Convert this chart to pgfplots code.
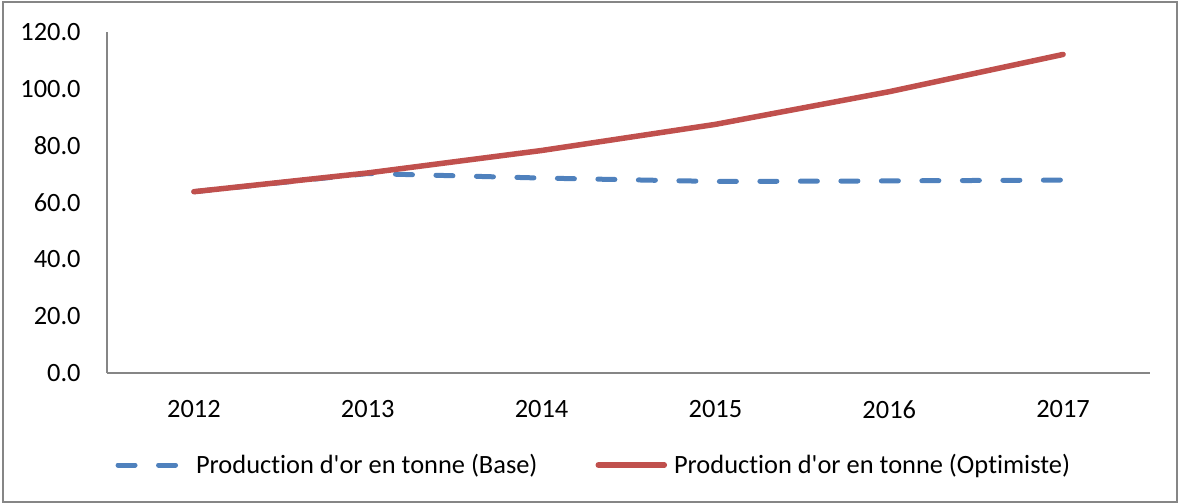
\documentclass[border=0pt]{standalone}
\usepackage{pgfplots}
\pgfplotsset{compat=1.18}
\usepackage{fontspec}
\setmainfont{Carlito}[Ligatures={NoCommon}]
\definecolor{xlblue}{RGB}{79,129,189}
\definecolor{xlred}{RGB}{192,80,77}
\definecolor{axgray}{RGB}{134,134,134}
\newcommand{\cf}{\fontsize{13.2bp}{16bp}\selectfont}
\begin{document}
\begin{tikzpicture}
\begin{axis}[
  at={(0,0)}, anchor=south west,
  scale only axis,
  width=521.5bp, height=170.5bp,
  xmin=-0.5, xmax=5.5,
  ymin=0, ymax=120,
  ytick={0,20,40,60,80,100,120},
  xtick={0,1,2,3,4,5},
  xticklabels={2012,2013,2014,2015,2016,2017},
  axis x line*=bottom, axis y line*=left,
  axis line style={draw=axgray, line width=0.75bp, -},
  major tick length=0pt,
  /pgf/number format/assume math mode=true,
  yticklabel={\pgfmathprintnumber[fixed, fixed zerofill, precision=1]{\tick}},
  yticklabel style={font=\cf, inner sep=0pt, anchor=east, xshift=-13bp},
  xticklabel style={font=\cf, inner sep=0pt, anchor=north, yshift=-13.5bp},
  clip=false,
  legend columns=2,
  legend style={at={(axis description cs:0.0058,-0.2698)}, anchor=west,
    draw=none, inner sep=0pt, outer sep=0pt, font=\cf,
    nodes={inner sep=0pt},
    /tikz/every even column/.append style={column sep=27.5bp}},
]
\addplot[xlblue, line width=2.5bp, line cap=round, line join=round,
  dash pattern=on 8.5bp off 11.75bp,
  legend image code/.code={\draw[xlblue, line width=2.5bp, line cap=round, dash pattern=on 8.5bp off 11.75bp] (1.25bp,0) -- (30.25bp,0); \path (0,0) (39bp,0);}]
  coordinates {(0,63.8) (1,70.2) (2,68.6) (3,67.4) (4,67.6) (5,67.9)};
\addlegendentry{Production d\textquotesingle or en tonne (Base)}
\addplot[xlred, line width=2.75bp, line cap=round, line join=round,
  legend image code/.code={\draw[xlred, line width=2.75bp, line cap=round] (1.5bp,0) -- (34.5bp,0); \path (0,0) (38bp,0);}]
  coordinates {(0,63.8) (1,70.4) (2,78.3) (3,87.5) (4,99.0) (5,112.1)};
\addlegendentry{Production d\textquotesingle or en tonne (Optimiste)}
\end{axis}
\draw[axgray, line width=0.75bp] (-52bp,-64.5bp) rectangle (535bp,185.5bp);
\useasboundingbox (-53.5bp,-65.5bp) rectangle (536.5bp,186.5bp);
\end{tikzpicture}
\end{document}
